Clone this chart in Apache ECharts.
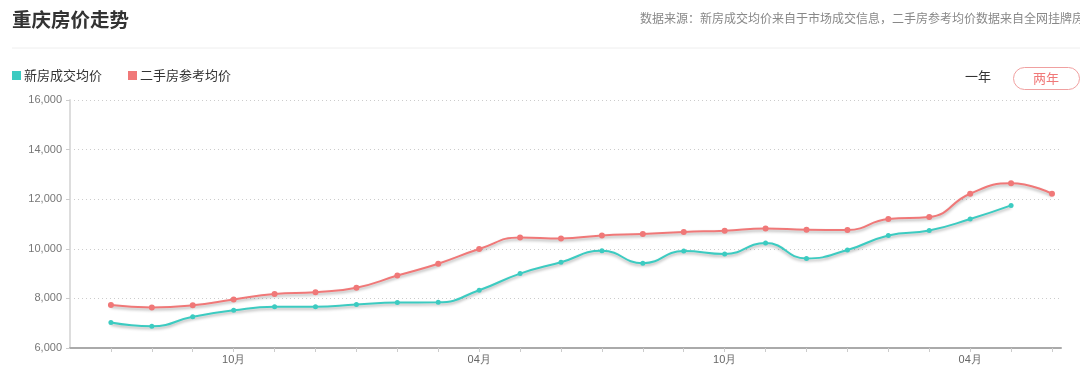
<!DOCTYPE html>
<html><head><meta charset="utf-8">
<script src="https://cdn.jsdelivr.net/npm/echarts@6/dist/echarts.min.js"></script>
<style>html,body{margin:0;padding:0;background:#fff}#c{width:1080px;height:370px}</style>
</head><body><div id="c"></div>
<script>
var months = ['07','08','09','10','11','12','01','02','03','04','05','06','07','08','09','10','11','12','01','02','03','04','05','06'];
var monthLabels = {4:'10月',10:'04月',16:'10月',22:'04月'};
var newHouse = [7030,6880,7260,7520,7660,7660,7750,7830,7840,8330,9000,9460,9920,9420,9910,9790,10230,9610,9950,10540,10740,11200,11750];
var secondHand = [7730,7630,7720,7960,8180,8250,8430,8920,9400,9990,10460,10420,10540,10600,10680,10730,10820,10770,10760,11200,11280,12220,12640,12220];
var yTicks = [6000,8000,10000,12000,14000,16000];

function pairs(arr){ return arr.map(function(v,i){ return [i+1, v]; }); }
var chart = echarts.init(document.getElementById('c'));
var teal = '#3ccbc1', red = '#f07878';
chart.setOption({
  animation:false,
  title:[
    {text:'重庆房价走势', left:12, top:10, padding:0, textStyle:{fontSize:19.5, fontWeight:'bold', color:'#333', fontFamily:'Noto Sans CJK SC'}},
    {text:'数据来源：新房成交均价来自于市场成交信息，二手房参考均价数据来自全网挂牌房源', left:640, top:12, padding:0, textStyle:{fontSize:12, fontWeight:'normal', color:'#888', fontFamily:'Noto Sans CJK SC'}}
  ],
  legend:{left:12, top:69, padding:0, icon:'rect', itemWidth:9, itemHeight:9, itemGap:26, textStyle:{fontSize:13, color:'#333', fontFamily:'Noto Sans CJK SC', padding:[0,0,0,-2]},
    data:[{name:'新房成交均价'},{name:'二手房参考均价'}]},
  graphic:[
    {type:'line', shape:{x1:12,y1:48,x2:1080,y2:48}, style:{stroke:'#eeeeee', lineWidth:1}},
    {type:'text', left:965, top:70, style:{text:'一年', fontSize:13, fill:'#333', fontFamily:'Noto Sans CJK SC'}},
    {type:'rect', shape:{x:1013.5,y:67.5,width:66,height:22,r:11}, style:{fill:'#fff', stroke:'#f0a0a0', lineWidth:1}},
    {type:'text', x:1046, y:78.5, style:{text:'两年', fontSize:13, fill:'#f07878', align:'center', verticalAlign:'middle', fontFamily:'Noto Sans CJK SC'}}
  ],
  grid:{left:70, right:19, top:100, bottom:22, containLabel:false},
  xAxis:{type:'value', min:0, max:24.22, interval:1,
    axisLine:{show:true, lineStyle:{color:'#aaa', width:2}},
    axisTick:{show:true, length:4, lineStyle:{color:'#ccc'}},
    axisLabel:{fontSize:11, color:'#666', margin:6, showMaxLabel:false, showMinLabel:false,
      formatter:function(v){ return monthLabels[v] || ''; }},
    splitLine:{show:false}},
  yAxis:{type:'value', min:yTicks[0], max:yTicks[yTicks.length-1], interval:2000,
    axisLine:{show:true, lineStyle:{color:'#ddd', width:2}},
    axisTick:{show:true, length:4, lineStyle:{color:'#ccc'}},
    axisLabel:{fontSize:11, color:'#777', margin:8, formatter:function(v){ return v.toLocaleString('en-US'); }},
    splitLine:{show:true, lineStyle:{type:[1,3], color:'#ccc'}}},
  series:[
    {name:'新房成交均价', type:'line', smooth:true, data:pairs(newHouse), symbol:'circle', symbolSize:5,
      itemStyle:{color:teal}, lineStyle:{color:teal, width:2, shadowColor:'rgba(0,0,0,0.3)', shadowBlur:3, shadowOffsetY:2}},
    {name:'二手房参考均价', type:'line', smooth:true, data:pairs(secondHand), symbol:'circle', symbolSize:6,
      itemStyle:{color:red}, lineStyle:{color:red, width:2, shadowColor:'rgba(0,0,0,0.3)', shadowBlur:3, shadowOffsetY:2}}
  ]
});
</script></body></html>
